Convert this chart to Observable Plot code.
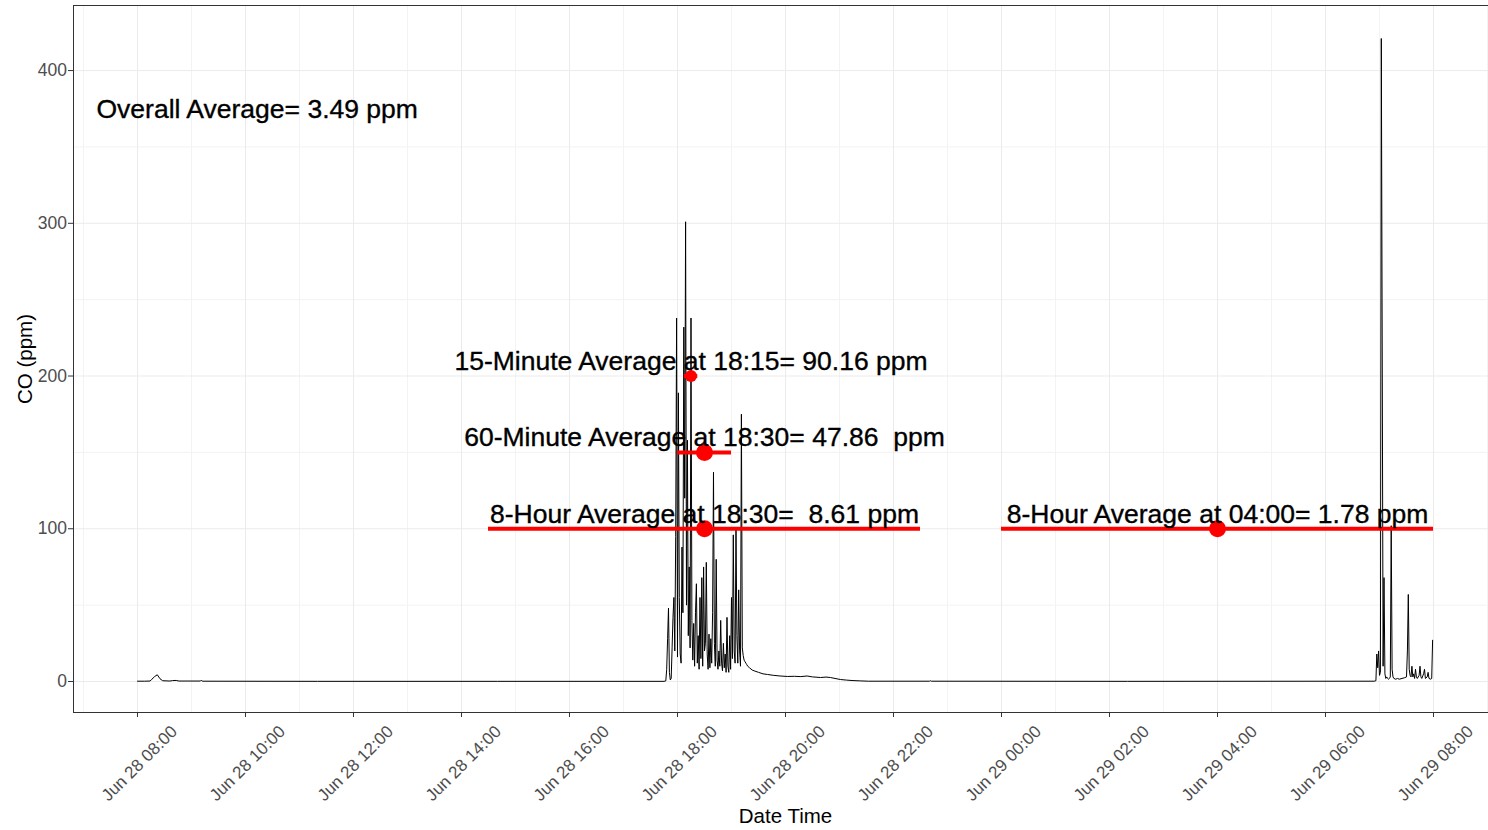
<!DOCTYPE html>
<html>
<head>
<meta charset="utf-8">
<script src="https://cdn.jsdelivr.net/npm/d3@7"></script>
<script src="https://cdn.jsdelivr.net/npm/@observablehq/plot@0.6"></script>
<style>
  html, body { margin: 0; padding: 0; background: #ffffff; }
  #chart svg { display: block; }
  #chart svg text { white-space: pre; }
</style>
</head>
<body>
<div id="chart"></div>
<script>
// CO monitor record, one reading per minute starting Jun 28 08:00.
// Flat stretches are kept sparse; the line joins the readings.
const startTime = Date.UTC(2023, 5, 28, 8, 0);

const minutes = [
  0, 8, 14, 16, 19, 22, 25, 28, 36, 39, 43, 46, 70, 71, 72, 200, 400, 585,
  587, 588, 589, 590, 591, 592, 593, 594, 595, 596, 597, 598, 599, 600,
  601, 602, 603, 604, 605, 606, 607, 608, 609, 610, 611, 612, 613, 614,
  615, 616, 617, 618, 619, 620, 621, 622, 623, 624, 625, 626, 627, 628,
  629, 630, 631, 632, 633, 634, 635, 636, 637, 638, 639, 640, 641, 642,
  643, 644, 645, 646, 647, 648, 649, 650, 651, 652, 653, 654, 655, 656,
  657, 658, 659, 660, 661, 662, 663, 664, 665, 666, 667, 668, 669, 670,
  671, 672, 673, 674, 675, 676, 677, 678, 680, 683, 686, 690, 695, 700,
  707, 714, 722, 730, 737, 744, 750, 755, 759, 765, 770, 775, 781, 788,
  795, 803, 812, 880, 881, 882, 1100, 1374,
  1376, 1377, 1378, 1379, 1380, 1381, 1382, 1383, 1384, 1385, 1386, 1387,
  1388, 1389, 1390, 1391, 1392, 1393, 1394, 1395, 1396, 1398, 1400, 1402,
  1405, 1408, 1410, 1411, 1412, 1413, 1414, 1415, 1416, 1417, 1418, 1419,
  1420, 1421, 1422, 1424, 1425, 1426, 1427, 1429, 1430, 1431, 1433, 1434,
  1435, 1437, 1438, 1439
];

const co = [
  0.2, 0.2, 0.3, 1.5, 3.2, 4.4, 1.8, 0.5, 0.3, 0.6, 0.7, 0.3, 0.3, 0.9, 0.2, 0.1, 0.1, 0.1,
  0.4, 8, 28, 48, 6, 1, 2, 22, 42, 55, 20, 95, 238, 16,
  189, 55, 18, 12, 88, 45, 232, 120, 301, 50, 158, 30, 75, 22,
  238, 40, 14, 38, 10, 45, 64, 12, 30, 8, 55, 15, 68, 10,
  75, 20, 25, 78, 18, 8, 31, 9, 28, 12, 45, 137, 25, 10,
  80, 14, 8, 20, 10, 40, 12, 7, 25, 9, 18, 6, 42, 10,
  6, 30, 8, 55, 15, 96, 20, 12, 101, 30, 12, 60, 20, 10,
  175, 22, 17, 14, 13, 12, 11, 10, 9, 7.5, 6.8, 6, 5, 4.6,
  4, 3.6, 3.3, 3.4, 3.2, 3.6, 3.0, 2.8, 2.6, 2.9, 2.6, 2.0, 1.3, 0.9,
  0.6, 0.4, 0.2, 0.2, 0.5, 0.2, 0.1, 0.2,
  0.5, 18, 9, 20, 4, 6, 421, 219, 10, 68, 5, 2,
  3, 2, 1.5, 2, 3, 102, 8, 3, 2, 1.5, 2, 1.5,
  2, 2.5, 3, 20, 57, 8, 4, 3, 10, 3, 5, 2,
  8, 3, 2, 4, 10, 3, 2, 5, 8, 2, 3, 6,
  2, 1.5, 2, 27
];

// Rolling-average summaries
const avgLabels = [
  "15-Minute Average at 18:15= 90.16 ppm",
  "60-Minute Average at 18:30= 47.86  ppm",
  "8-Hour Average at 18:30=  8.61 ppm",
  "8-Hour Average at 04:00= 1.78 ppm"
];
const avgCenterMinutes = [615, 630, 630, 1200];   // window midpoints
const avgWindowMinutes = [15, 60, 480, 480];
const avgMarkerLevel = [200, 150, 100, 100];
const avgLabelLevel = [209.6, 159.6, 109.6, 109.6];
const avgMarkerRadius = [6, 8.5, 8.5, 8.5];

const overallLabel = "Overall Average= 3.49 ppm";
const overallMinute = 133;
const overallLevel = 374.7;

const yTicks = [0, 100, 200, 300, 400];
const yMinor = [50, 150, 250, 350];
const xTickMinutes = d3.range(0, 1441, 120);
const xMinorMinutes = d3.range(-60, 1501, 120);

const toDate = m => new Date(startTime + m * 60000);

const series = minutes.map((m, i) => ({time: toDate(m), co: co[i]}));
const averages = avgLabels.map((label, i) => ({
  label,
  time: toDate(avgCenterMinutes[i]),
  start: toDate(avgCenterMinutes[i] - avgWindowMinutes[i] / 2),
  end: toDate(avgCenterMinutes[i] + avgWindowMinutes[i] / 2),
  level: avgMarkerLevel[i],
  labelY: avgLabelLevel[i],
  r: avgMarkerRadius[i]
}));
const xTicks = xTickMinutes.map(toDate);
const xMinor = xMinorMinutes.map(toDate);
const fmt = d3.utcFormat("%b %d %H:%M");

const labelStyle = {fontSize: 26.5, fill: "#000000", stroke: "#000000", strokeWidth: 0.35};

const chart = Plot.plot({
  width: 1488,
  height: 830,
  marginLeft: 73,
  marginRight: -9,
  marginTop: 5,
  marginBottom: 118,
  style: {
    fontFamily: "'Liberation Sans', Arial, sans-serif",
    background: "#ffffff",
    overflow: "hidden"
  },
  x: {type: "utc", domain: [toDate(-71.1), toDate(1511.1)]},
  y: {domain: [-20.3, 442.6]},
  r: {type: "identity"},
  marks: [
    // panel grid
    Plot.ruleY(yMinor, {stroke: "#f3f3f3", strokeWidth: 1}),
    Plot.ruleX(xMinor, {stroke: "#f3f3f3", strokeWidth: 1}),
    Plot.ruleY(yTicks, {stroke: "#ebebeb", strokeWidth: 1}),
    Plot.ruleX(xTicks, {stroke: "#ebebeb", strokeWidth: 1}),

    // CO trace
    Plot.line(series, {x: "time", y: "co", stroke: "#000000", strokeWidth: 1}),

    // averaging windows and their markers
    Plot.ruleY(averages, {y: "level", x1: "start", x2: "end", stroke: "#ff0000", strokeWidth: 4}),
    Plot.dot(averages, {x: "time", y: "level", r: "r", fill: "#ff0000", stroke: null}),
    Plot.text(averages, {x: "time", y: "labelY", text: "label", ...labelStyle}),
    Plot.text([overallLabel], {x: () => toDate(overallMinute), y: () => overallLevel, text: d => d, ...labelStyle}),

    // panel border
    Plot.frame({stroke: "#333333", strokeWidth: 1}),

    // axes
    Plot.axisY({ticks: yTicks, tickSize: 5, tickPadding: 1.5, fontSize: 17.5, label: null, stroke: "#333333", fill: "#4d4d4d"}),
    Plot.axisX({ticks: xTicks, tickSize: 5, tickFormat: () => "", label: null, stroke: "#333333"}),
    Plot.text(xTicks, {x: d => d, frameAnchor: "bottom", textAnchor: "middle", lineAnchor: "middle", dx: 2, dy: 51, rotate: -45, text: d => fmt(d), fontSize: 17, fill: "#4d4d4d"}),
    Plot.text(["CO (ppm)"], {frameAnchor: "left", textAnchor: "middle", lineAnchor: "middle", dx: -48, rotate: -90, text: d => d, fontSize: 20.5, fill: "#000000"}),
    Plot.text(["Date Time"], {frameAnchor: "bottom", textAnchor: "middle", lineAnchor: "middle", dy: 104, text: d => d, fontSize: 20.5, fill: "#000000"})
  ]
});

document.getElementById("chart").append(chart);
</script>
</body>
</html>
